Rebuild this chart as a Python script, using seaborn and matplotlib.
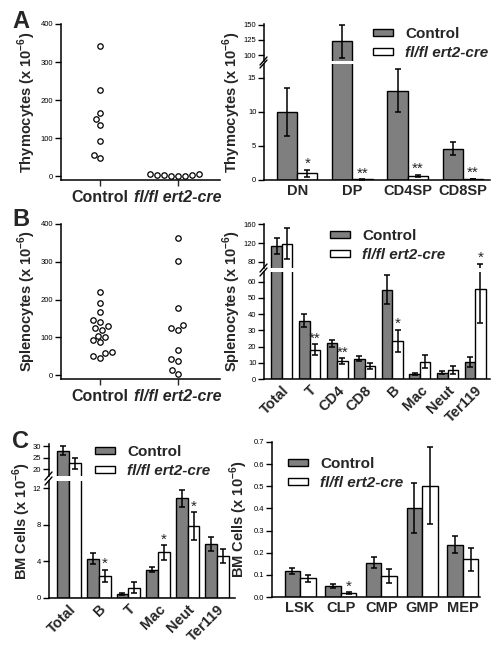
import matplotlib
matplotlib.use('Agg')
import matplotlib.pyplot as plt
import numpy as np
import pandas as pd
import seaborn as sns
from matplotlib.lines import Line2D
from matplotlib.patches import Patch

# ---------------------------------------------------------------------------
# Data (cells x 10^-6)
# ---------------------------------------------------------------------------

groups = ['Control', 'fl/fl ert2-cre']

thymus_ctrl_pts = [342, 226, 165, 150, 135, 93, 55, 48]
thymus_ko_pts   = [1, 2, 1, 3, 6, 2, 1, 5]

spleen_ctrl_pts = [219, 190, 166, 146, 140, 130, 126, 120, 105, 100, 92, 88, 62, 58, 50, 45]
spleen_ko_pts   = [364, 303, 178, 132, 124, 119, 66, 42, 37, 14, 4]

thy_cells    = ['DN', 'DP', 'CD4SP', 'CD8SP']
thy_ctrl     = [10.0, 123.0, 13.1, 4.6]
thy_ctrl_err = [3.5, 27.0, 3.1, 1.0]
thy_ko       = [1.0, 0.1, 0.6, 0.15]
thy_ko_err   = [0.5, 0.05, 0.15, 0.05]
thy_stars    = ['*', '**', '**', '**']

spl_cells    = ['Total', 'T', 'CD4', 'CD8', 'B', 'Mac', 'Neut', 'Ter119']
spl_ctrl     = [114, 36, 22, 12.5, 55, 3.0, 3.8, 10.5]
spl_ctrl_err = [17, 4, 2, 1.5, 9, 0.7, 1.0, 3.0]
spl_ko       = [119, 18, 11, 8, 23.5, 10.5, 5.5, 55.5]
spl_ko_err   = [33, 3.5, 2, 2, 7, 4, 2.5, 21]
spl_stars    = ['', '**', '**', '', '*', '', '', '*']

bm_cells    = ['Total', 'B', 'T', 'Mac', 'Neut', 'Ter119']
bm_ctrl     = [28.0, 4.3, 0.45, 3.1, 10.9, 5.9]
bm_ctrl_err = [2.0, 0.6, 0.1, 0.3, 0.9, 0.8]
bm_ko       = [22.5, 2.4, 1.1, 5.0, 7.9, 4.6]
bm_ko_err   = [2.5, 0.7, 0.6, 0.8, 1.5, 0.8]
bm_stars    = ['', '*', '', '*', '*', '']

prog_cells    = ['LSK', 'CLP', 'CMP', 'GMP', 'MEP']
prog_ctrl     = [0.117, 0.050, 0.155, 0.402, 0.237]
prog_ctrl_err = [0.013, 0.010, 0.025, 0.112, 0.040]
prog_ko       = [0.085, 0.017, 0.095, 0.503, 0.170]
prog_ko_err   = [0.015, 0.004, 0.033, 0.173, 0.053]
prog_stars    = ['', '*', '', '', '']

# ---------------------------------------------------------------------------
# Style
# ---------------------------------------------------------------------------

W, H   = 498, 651
GRAY   = '#7f7f7f'
PAL    = {groups[0]: GRAY, groups[1]: 'white'}

sns.set_style('ticks')
plt.rcParams['font.family']       = ['Liberation Sans', 'DejaVu Sans']
plt.rcParams['mathtext.fontset']  = 'custom'
plt.rcParams['mathtext.rm']       = 'Liberation Sans'
plt.rcParams['mathtext.bf']       = 'Liberation Sans:bold'
plt.rcParams['axes.linewidth']    = 1.1
plt.rcParams['axes.edgecolor']    = 'black'


def px_axes(fig, x0, y0, x1, y1):
    """Add an axes given its pixel box (top-left origin)."""
    return fig.add_axes([x0 / W, 1 - y1 / H, (x1 - x0) / W, (y1 - y0) / H])


def style_axis(ax, ylim, yticks, fmt=None):
    ax.set_ylim(*ylim)
    ax.set_yticks(yticks)
    if fmt:
        ax.set_yticklabels([fmt.format(t) for t in yticks])
    ax.tick_params(axis='y', length=4, width=1, labelsize=5.5, pad=1.5, colors='black')
    ax.tick_params(axis='x', length=0, labelsize=10.5, pad=3)
    ax.set_xlabel('')
    ax.set_ylabel('')
    sns.despine(ax=ax)


def ylabel(fig, ax, text, x, y):
    ax.set_ylabel(text + r' (x 10$^{\mathbf{-6}}$)', fontsize=10.5, fontweight='bold')
    ax.yaxis.set_label_coords(x / W, 1 - y / H, transform=fig.transFigure)


def bar_frame(cells, ctrl, ko):
    n = len(cells)
    return pd.DataFrame({'cell': cells * 2, 'value': list(ctrl) + list(ko),
                         'group': [groups[0]] * n + [groups[1]] * n})


def draw_bars(ax, cells, ctrl, ctrl_err, ko, ko_err, ylim, width=0.75):
    df = bar_frame(cells, ctrl, ko)
    sns.barplot(data=df, x='cell', y='value', hue='group', palette=PAL,
                saturation=1, edgecolor='black', linewidth=1, width=width,
                errorbar=None, legend=False, ax=ax)
    for cont, means, errs in zip(ax.containers, [ctrl, ko], [ctrl_err, ko_err]):
        for bar, m, e in zip(cont, means, errs):
            if m + e < ylim[0] or m - e > ylim[1]:
                continue
            ax.errorbar(bar.get_x() + bar.get_width() / 2, m, yerr=e, color='black',
                        capsize=2.5, capthick=1.1, elinewidth=1.1, zorder=5)
    return ax.containers[1]


def draw_stars(axes, ko_bars, ko, ko_err, stars):
    for bar, m, e, s in zip(ko_bars, ko, ko_err, stars):
        if not s:
            continue
        top = m + e
        ax = axes[-1]
        for a in axes:
            lo, hi = a.get_ylim()
            if lo <= top <= hi:
                ax = a
        ax.annotate(s, (bar.get_x() + bar.get_width() / 2, top), xytext=(0, -1),
                    textcoords='offset points', ha='center', va='bottom', fontsize=11)


def broken_pair(fig, x0, x1, y_top, y_mid1, y_mid2, y_bot):
    upper = px_axes(fig, x0, y_top, x1, y_mid1)
    lower = px_axes(fig, x0, y_mid2, x1, y_bot)
    for d in (y_mid1, y_mid2):
        fig.add_artist(Line2D([(x0 - 4) / W, (x0 + 3) / W], [1 - (d + 4) / H, 1 - (d - 4) / H],
                              color='black', lw=1))
    return upper, lower


def finish_broken(upper, lower):
    upper.spines['bottom'].set_visible(False)
    upper.tick_params(axis='x', bottom=False, labelbottom=False)
    upper.set_xlim(lower.get_xlim())


def add_legend(fig, x, y):
    handles = [Patch(facecolor=PAL[g], edgecolor='black', linewidth=1) for g in groups]
    leg = fig.legend(handles, groups, loc='upper left', bbox_to_anchor=(x / W, 1 - y / H),
                     frameon=False, fontsize=11, handlelength=1.3, handleheight=0.35,
                     handletextpad=0.8, labelspacing=0.35, borderpad=0, borderaxespad=0)
    for t in leg.get_texts():
        t.set_fontweight('bold')
    leg.get_texts()[1].set_fontstyle('italic')


def dot_panel(fig, box, ctrl_pts, ko_pts, label, label_y):
    ax = px_axes(fig, *box)
    df = pd.DataFrame({'group': [groups[0]] * len(ctrl_pts) + [groups[1]] * len(ko_pts),
                       'value': ctrl_pts + ko_pts})
    sns.swarmplot(data=df, x='group', y='value', color='white', edgecolor='black',
                  linewidth=0.9, size=3.9, ax=ax)
    ax.set_xlim(-0.5, 1.54)
    style_axis(ax, (-10, 400), [0, 100, 200, 300, 400])
    ax.tick_params(axis='x', length=4, width=1, pad=3)
    for t in ax.get_xticklabels():
        t.set_fontweight('bold')
        t.set_fontsize(11.5)
    ax.get_xticklabels()[1].set_fontstyle('italic')
    ylabel(fig, ax, label, 38, label_y)
    return ax


def rotate_labels(ax):
    for t in ax.get_xticklabels():
        t.set_fontweight('bold')
        t.set_rotation(45)
        t.set_ha('right')
        t.set_rotation_mode('anchor')


# ---------------------------------------------------------------------------
# Figure
# ---------------------------------------------------------------------------

fig = plt.figure(figsize=(W / 100, H / 100), dpi=100)

# --- A: thymus ---
dot_panel(fig, (61, 24, 220, 180), thymus_ctrl_pts, thymus_ko_pts, 'Thymocytes', 102)

lims = [(0, 17), (90.3, 151)]
up, lo = broken_pair(fig, 264, 490, 24, 61, 64, 180)
ko_bars = draw_bars(lo, thy_cells, thy_ctrl, thy_ctrl_err, thy_ko, thy_ko_err, lims[0], width=0.73)
draw_bars(up, thy_cells, thy_ctrl, thy_ctrl_err, thy_ko, thy_ko_err, lims[1], width=0.73)
lo.set_xlim(-0.6, 3.49)
style_axis(lo, lims[0], [0, 5, 10, 15])
style_axis(up, lims[1], [100, 125, 150])
finish_broken(up, lo)
for t in lo.get_xticklabels():
    t.set_fontweight('bold')
draw_stars([lo, up], ko_bars, thy_ko, thy_ko_err, thy_stars)
ylabel(fig, lo, 'Thymocytes', 243, 102)
add_legend(fig, 373, 27)

# --- B: spleen ---
dot_panel(fig, (61, 224, 220, 379), spleen_ctrl_pts, spleen_ko_pts, 'Splenocytes', 301)

lims = [(0, 66), (67, 160.5)]
up, lo = broken_pair(fig, 264, 490, 224, 268, 272, 379)
ko_bars = draw_bars(lo, spl_cells, spl_ctrl, spl_ctrl_err, spl_ko, spl_ko_err, lims[0], width=0.76)
draw_bars(up, spl_cells, spl_ctrl, spl_ctrl_err, spl_ko, spl_ko_err, lims[1], width=0.76)
lo.set_xlim(-0.65, 7.54)
style_axis(lo, lims[0], [0, 10, 20, 30, 40, 50, 60])
style_axis(up, lims[1], [80, 120, 160])
finish_broken(up, lo)
rotate_labels(lo)
draw_stars([lo, up], ko_bars, spl_ko, spl_ko_err, spl_stars)
ylabel(fig, lo, 'Splenocytes', 243, 301)
add_legend(fig, 330, 229)

# --- C: bone marrow ---
lims = [(0, 12.8), (17, 31)]
up, lo = broken_pair(fig, 49, 235, 444, 476, 481, 598)
ko_bars = draw_bars(lo, bm_cells, bm_ctrl, bm_ctrl_err, bm_ko, bm_ko_err, lims[0], width=0.8)
draw_bars(up, bm_cells, bm_ctrl, bm_ctrl_err, bm_ko, bm_ko_err, lims[1], width=0.8)
lo.set_xlim(-0.68, 5.6)
style_axis(lo, lims[0], [0, 4, 8, 12])
style_axis(up, lims[1], [20, 25, 30])
finish_broken(up, lo)
rotate_labels(lo)
draw_stars([lo, up], ko_bars, bm_ko, bm_ko_err, bm_stars)
ylabel(fig, lo, 'BM Cells', 33, 521)
add_legend(fig, 95, 445)

ax = px_axes(fig, 272, 442, 480, 597)
ko_bars = draw_bars(ax, prog_cells, prog_ctrl, prog_ctrl_err, prog_ko, prog_ko_err, (0, 0.7), width=0.76)
ax.set_xlim(-0.69, 4.42)
style_axis(ax, (0, 0.7), [0.0, 0.1, 0.2, 0.3, 0.4, 0.5, 0.6, 0.7], fmt='{:.1f}')
for t in ax.get_xticklabels():
    t.set_fontweight('bold')
draw_stars([ax], ko_bars, prog_ko, prog_ko_err, prog_stars)
ylabel(fig, ax, 'BM Cells', 250, 519)
add_legend(fig, 288, 457)

# --- panel letters ---
for letter, y in [('A', 10), ('B', 208), ('C', 430)]:
    fig.text(12 / W, 1 - y / H, letter, fontsize=17, fontweight='bold', va='top', ha='left')

fig.savefig('out.png', dpi=100)
